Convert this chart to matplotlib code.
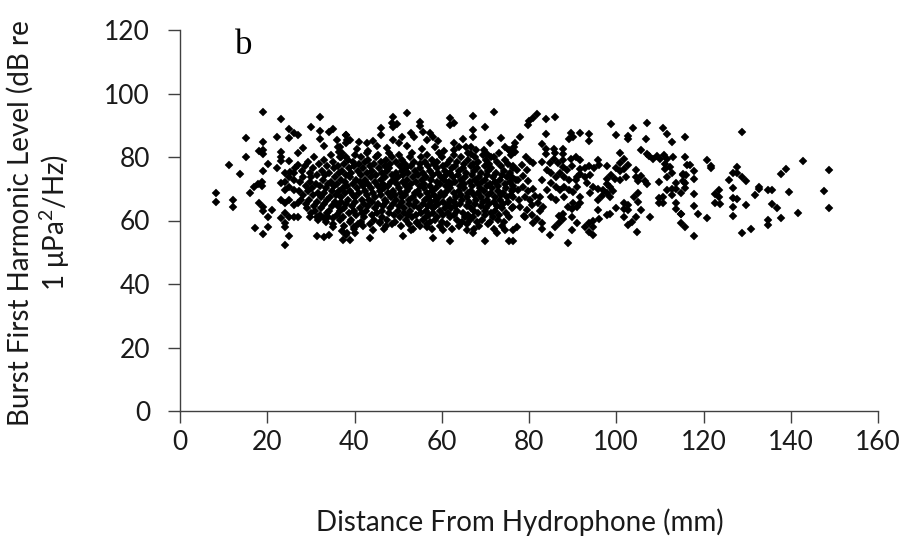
import matplotlib
matplotlib.use("Agg")
import matplotlib.pyplot as plt

# ---------------- data ----------------
# sparse / outlying points: distance (mm), level (dB)
sparse_x = [19.0, 23.1, 32.1, 30.1, 25.1, 26.1, 27.0, 32.1, 34.2, 35.1, 15.1, 22.2, 25.1, 19.1, 18.0, 19.0, 19.1,
            15.1, 11.2, 13.8, 19.1, 20.1, 22.2, 23.1, 23.1, 23.1, 25.1, 27.0, 28.1, 26.3, 27.0, 25.2, 32.1, 33.0,
            36.1, 36.2, 36.4, 38.1, 38.2, 16.0, 17.0, 17.9, 18.8, 18.8, 8.2, 8.2, 12.1, 12.1, 18.0, 19.1, 19.1,
            20.2, 21.1, 17.1, 19.1, 20.2, 23.1, 24.1, 25.1, 26.1, 24.1, 23.1, 24.1, 25.1, 26.1, 27.0, 23.1, 24.1,
            24.1, 24.1, 25.1, 26.1, 27.0, 25.1, 24.1, 31.5, 33.0, 34.1, 35.0, 37.1, 38.1, 39.0, 40.1, 31.5, 32.1,
            33.0, 35.0, 24.1, 25.1, 26.1, 26.1]
sparse_y = [94.1, 92.0, 92.7, 89.5, 88.8, 87.7, 86.9, 88.3, 87.8, 88.7, 86.1, 86.4, 85.9, 84.6, 81.9, 82.2, 80.8,
            79.9, 77.4, 74.7, 75.7, 77.9, 76.4, 81.6, 80.1, 78.8, 78.7, 81.2, 82.7, 76.4, 77.5, 75.4, 85.6, 83.6,
            85.4, 83.2, 81.7, 86.9, 85.4, 68.6, 70.6, 71.4, 70.9, 72.1, 68.8, 65.8, 66.5, 64.2, 65.4, 64.3, 63.1,
            61.2, 63.3, 57.6, 55.7, 57.9, 71.7, 72.1, 70.7, 69.6, 69.6, 66.5, 65.4, 66.5, 64.8, 65.4, 60.7, 62.3,
            59.3, 58.1, 61.2, 61.0, 61.0, 55.1, 52.3, 55.1, 54.9, 55.3, 58.1, 56.6, 55.3, 53.8, 56.0, 61.2, 61.2,
            60.8, 60.8, 74.9, 73.6, 72.8, 74.9]

mid_x = [52.0, 48.9, 48.5, 49.7, 48.9, 55.0, 55.0, 55.6, 61.9, 62.8, 61.9, 67.1, 71.9, 69.9, 67.1, 67.1, 46.0,
         46.0, 44.3, 42.8, 38.0, 38.9, 38.0, 38.0, 41.0, 52.9, 53.7, 57.3, 58.1, 56.6, 48.8, 50.3, 62.7, 63.9,
         62.7, 65.6, 66.7, 67.9, 66.7, 69.6, 70.3, 71.2, 74.6, 75.5, 76.7, 76.9, 36.7, 36.7, 43.5, 51.1, 52.9,
         58.0, 61.9, 69.9, 75.5, 38.2, 37.3, 39.9, 44.3, 45.8, 54.3, 56.6, 60.4, 65.7, 67.2, 72.6, 74.6, 77.2,
         40.5, 43.0, 47.5, 52.0, 55.5, 58.5, 60.5, 71.0, 73.5, 45.2, 59.2, 64.8, 50.8]
mid_y = [93.8, 92.7, 90.6, 90.4, 89.6, 91.1, 89.8, 88.0, 92.3, 90.6, 90.2, 92.9, 94.3, 89.3, 88.5, 86.4, 89.0,
         86.9, 85.1, 84.3, 86.9, 85.5, 84.3, 80.1, 84.8, 87.5, 86.4, 87.5, 86.4, 85.4, 85.4, 84.3, 84.3, 83.2,
         82.2, 83.2, 83.2, 82.2, 81.1, 82.2, 81.1, 80.1, 83.2, 82.2, 84.3, 81.5, 83.2, 80.1, 54.5, 55.1, 57.0,
         54.5, 53.7, 53.7, 53.7, 56.0, 53.8, 58.1, 57.0, 59.1, 59.1, 58.1, 57.0, 57.0, 56.0, 56.0, 57.0, 58.1,
         82.5, 81.8, 82.8, 83.5, 82.5, 83.0, 81.8, 84.5, 86.0, 83.6, 84.9, 85.7, 86.2]

right_x = [81.9, 81.0, 80.1, 79.8, 83.9, 85.9, 77.9, 83.9, 89.6, 90.0, 89.1, 91.8, 93.8, 93.8, 98.9, 103.8,
           107.0, 99.9, 102.8, 102.8, 106.8, 110.8, 111.7, 112.8, 76.6, 76.6, 75.6, 82.9, 83.9, 83.9, 85.7,
           85.9, 87.7, 87.9, 81.0, 82.9, 84.8, 85.7, 86.7, 87.9, 89.6, 90.8, 91.7, 89.8, 88.8, 87.7, 91.8, 92.9,
           93.8, 94.9, 95.8, 96.0, 94.0, 92.9, 91.8, 90.9, 100.9, 101.8, 100.9, 99.9, 100.9, 101.8, 102.8, 102.3,
           100.9, 99.8, 98.9, 97.8, 105.6, 107.0, 107.4, 108.4, 109.3, 110.0, 110.9, 111.7, 113.1, 111.2, 112.3,
           112.8, 111.7, 111.2, 109.7, 104.5, 104.5, 105.0, 105.6, 106.5, 107.0, 115.2, 115.4, 113.8, 113.8,
           112.8, 111.7, 112.8, 110.8, 109.7, 109.7, 110.8, 113.8, 113.8, 114.8, 107.7, 105.0, 104.1, 105.0,
           105.6, 104.5, 103.6, 104.7, 102.7, 101.8, 102.7, 101.8, 102.7, 101.8, 99.9, 97.8, 97.8, 98.6, 99.2,
           97.8, 96.9, 98.6, 96.7, 95.8, 95.8, 97.8, 98.6, 96.0, 94.7, 93.8, 92.9, 94.7, 93.8, 94.7, 91.8, 91.8,
           90.9, 89.9, 90.0, 88.9, 87.9, 89.9, 90.9, 89.9, 88.9, 84.8, 85.9, 86.8, 87.9, 86.8, 82.9, 82.9, 81.9,
           81.0, 78.9, 76.3, 76.3,
           76.4, 77.3, 78.4, 79.5, 76.2, 77.5, 78.7, 79.8, 76.4, 77.5, 78.7, 79.8, 81.0, 76.4, 77.6, 79.0, 80.2,
           81.4, 76.4, 77.9, 79.5, 80.7, 82.1, 79.0, 80.7, 82.5, 83.3, 84.2, 85.1, 86.2, 87.1, 88.1, 89.1, 85.1,
           86.2, 84.2, 87.1, 88.1, 89.1, 85.1, 86.2, 88.1, 90.1, 91.1, 90.8, 83.0, 82.5, 93.2, 94.7, 95.8, 94.0,
           79.3, 80.2]
right_y = [93.5, 92.3, 91.4, 90.1, 92.1, 92.5, 86.4, 87.2, 87.7, 86.4, 85.6, 87.7, 87.2, 85.1, 90.4, 89.2,
           90.6, 86.9, 86.6, 85.8, 85.8, 89.1, 87.2, 84.7, 83.2, 81.6, 82.0, 84.1, 82.4, 80.9, 82.4, 81.2, 82.6,
           80.9, 78.2, 78.4, 78.2, 79.5, 78.2, 79.1, 79.5, 80.1, 79.1, 77.2, 75.9, 77.0, 76.1, 76.5, 77.2, 76.5,
           79.1, 77.4, 74.2, 73.8, 74.6, 73.8, 81.2, 79.3, 78.2, 76.4, 75.5, 76.3, 77.4, 73.6, 72.8, 73.0, 74.4,
           77.2, 82.2, 80.9, 80.3, 79.5, 80.3, 79.5, 80.5, 79.3, 79.9, 77.8, 76.9, 74.9, 73.6, 76.3, 72.1, 75.9,
           73.8, 72.5, 74.0, 72.5, 71.5, 74.6, 72.5, 71.7, 70.0, 70.0, 69.6, 67.9, 67.5, 67.1, 65.4, 65.4, 65.4,
           63.7, 62.0, 61.0, 68.6, 67.3, 65.8, 63.3, 61.2, 59.5, 56.4, 58.7, 65.4, 65.0, 63.7, 63.3, 61.2, 63.9,
           73.0, 71.5, 70.6, 69.2, 68.6, 69.6, 67.3, 67.7, 66.5, 63.3, 61.6, 62.0, 60.6, 59.7, 59.1, 58.0, 58.0,
           56.4, 55.3, 67.5, 65.4, 64.3, 63.5, 65.4, 64.3, 62.2, 61.2, 59.3, 57.0, 52.8, 55.3, 57.9, 59.3, 60.4,
           61.4, 57.2, 59.3, 60.6, 59.3, 61.4, 53.6, 57.0,
           77.2, 75.9, 77.4, 75.9, 73.6, 72.8, 74.0, 72.3, 70.0, 69.6, 70.7, 69.4, 70.0, 67.3, 66.5, 67.3, 66.5,
           67.7, 64.3, 64.1, 63.3, 65.0, 65.4, 61.2, 61.6, 63.1, 64.3, 75.9, 74.9, 73.6, 74.9, 73.6, 72.8, 71.7,
           70.7, 69.6, 69.6, 70.5, 69.6, 67.5, 66.5, 67.5, 69.0, 70.7, 72.8, 72.8, 67.5, 71.7, 70.7, 70.0, 68.6,
           80.1, 78.6]

far_x = [115.8, 128.8, 115.8, 116.3, 116.9, 115.2, 116.0, 117.8, 117.8, 115.8, 115.8, 114.9, 117.8, 117.8,
         114.9, 118.8, 120.7, 114.9, 115.8, 117.8, 120.7, 121.8, 121.8, 122.7, 122.7, 123.6, 123.6, 123.8,
         125.8, 126.7, 127.7, 127.7, 128.8, 129.7, 126.7, 126.7, 127.7, 126.7, 126.7, 129.7, 128.8, 130.8,
         131.7, 132.8, 132.8, 134.8, 135.7, 135.7, 136.8, 137.7, 134.8, 134.8, 137.7, 138.8, 139.7, 141.7,
         142.7, 147.6, 148.7, 148.7]
far_y = [86.2, 88.0, 80.1, 77.4, 77.4, 74.2, 74.2, 75.7, 73.2, 71.9, 70.2, 68.6, 68.2, 64.6, 62.0, 62.0, 60.9,
         59.3, 58.0, 55.1, 79.1, 77.2, 76.5, 68.2, 65.6, 69.6, 67.5, 65.2, 72.8, 75.1, 76.8, 75.1, 73.6, 72.5,
         70.1, 67.1, 66.9, 64.2, 61.4, 64.8, 56.0, 57.3, 68.0, 70.5, 69.8, 69.6, 69.6, 65.2, 63.8, 60.8, 60.2,
         58.6, 74.6, 76.3, 69.0, 62.5, 78.7, 69.4, 75.8, 64.0]

# dense core of the cloud, read band by band (level dB, distances mm)
core_levels = [81.3, 80.6, 79.9, 79.2, 78.5, 77.8, 77.1, 76.4, 75.7, 75.0, 74.3, 73.6, 72.9, 72.2, 71.5, 70.8,
               70.1, 69.4, 68.7, 68.0, 67.3, 66.6, 65.9, 65.2, 64.5, 63.8, 63.1, 62.4, 61.7, 61.0, 60.3, 59.6,
               58.9, 58.2, 57.4]
core_dists = [
    [37.2, 42.8, 47.9, 53.1, 59.4, 66.0, 73.1],
    [34.6, 40.1, 45.3, 50.2, 56.7, 62.9, 69.4, 75.8],
    [30.8, 36.9, 41.5, 44.9, 48.6, 52.7, 55.3, 60.1, 64.4, 67.6, 71.9],
    [33.1, 38.4, 43.0, 47.2, 50.9, 57.8, 62.0, 66.1, 70.2, 74.5],
    [29.3, 35.0, 39.6, 42.3, 46.0, 49.4, 53.6, 56.2, 59.0, 63.5, 68.3, 72.7],
    [31.9, 37.6, 41.1, 44.4, 48.1, 51.5, 54.9, 58.3, 61.2, 65.0, 67.2, 70.9, 75.1],
    [28.6, 33.8, 36.2, 39.9, 43.5, 46.9, 50.4, 52.9, 56.8, 60.3, 63.1, 66.6, 69.8, 73.5],
    [30.4, 35.3, 38.8, 42.0, 45.6, 48.0, 51.9, 55.1, 58.9, 62.4, 64.9, 68.1, 71.4, 76.3],
    [27.9, 32.5, 37.1, 40.7, 44.1, 47.4, 50.8, 53.9, 57.2, 60.8, 64.0, 67.3, 70.6, 74.2],
    [29.8, 34.2, 36.5, 39.3, 42.9, 46.2, 49.5, 52.3, 55.8, 59.2, 61.9, 65.6, 69.0, 72.4, 75.6],
    [31.3, 33.3, 38.0, 41.6, 45.0, 48.7, 51.2, 54.6, 58.1, 61.0, 63.7, 66.9, 70.4, 73.9],
    [28.2, 30.1, 35.6, 39.0, 43.8, 47.0, 50.0, 53.3, 56.5, 59.8, 62.6, 65.3, 68.6, 71.8, 75.0],
    [32.8, 36.8, 40.4, 42.5, 46.1, 49.1, 52.0, 55.4, 57.6, 60.6, 64.3, 67.7, 70.0, 73.3, 77.0],
    [27.5, 29.9, 34.5, 37.9, 41.2, 44.6, 48.3, 51.1, 54.2, 58.8, 61.6, 63.0, 66.4, 69.3, 72.1, 75.7],
    [31.1, 33.9, 36.1, 39.6, 43.1, 46.5, 49.8, 53.0, 56.0, 59.5, 62.2, 65.0, 68.2, 71.0, 74.4],
    [28.8, 32.0, 35.2, 38.3, 41.9, 45.3, 47.6, 51.7, 54.9, 57.4, 60.9, 64.1, 67.0, 70.3, 73.0, 76.4],
    [30.3, 33.5, 37.3, 40.6, 43.7, 46.8, 50.3, 52.6, 55.9, 58.6, 62.0, 65.2, 68.8, 71.6, 74.8],
    [27.2, 29.4, 34.9, 36.4, 39.0, 42.4, 45.8, 48.9, 52.1, 54.5, 57.8, 61.2, 63.9, 66.7, 69.6, 72.9, 76.0],
    [31.7, 33.1, 37.8, 41.0, 44.3, 47.7, 50.7, 53.8, 56.6, 59.9, 62.8, 66.0, 68.3, 71.3, 74.1],
    [28.1, 30.6, 35.8, 39.7, 42.8, 46.0, 49.2, 51.5, 55.0, 58.2, 60.5, 64.5, 67.4, 70.7, 73.6, 75.9],
    [32.4, 34.4, 37.0, 40.2, 44.8, 48.4, 50.9, 53.5, 57.0, 59.3, 63.3, 65.7, 69.1, 72.2, 74.9],
    [27.8, 29.6, 33.7, 38.6, 41.7, 43.4, 46.9, 49.6, 52.4, 56.1, 58.6, 61.8, 64.6, 67.9, 70.4, 73.4],
    [31.4, 35.5, 36.9, 40.0, 44.0, 47.3, 51.0, 54.2, 57.5, 60.2, 62.9, 66.2, 69.5, 71.9, 75.3],
    [28.9, 33.0, 38.1, 42.1, 45.5, 48.8, 52.6, 55.6, 59.1, 61.4, 64.2, 67.6, 70.9, 74.0],
    [30.7, 34.8, 36.3, 39.4, 43.2, 46.6, 50.1, 53.7, 56.9, 58.4, 63.0, 65.9, 68.9, 72.6],
    [29.2, 32.3, 37.5, 41.3, 44.7, 48.1, 51.4, 54.8, 57.9, 60.7, 62.1, 66.8, 70.1, 73.8, 76.2],
    [31.0, 34.1, 36.7, 39.8, 42.7, 46.3, 49.9, 52.8, 56.3, 59.6, 63.6, 67.5, 69.9, 72.3],
    [30.0, 33.6, 38.7, 41.8, 45.1, 47.8, 51.3, 55.3, 58.0, 61.5, 64.8, 68.4, 71.2, 74.7],
    [32.1, 35.9, 40.4, 43.9, 49.0, 52.2, 54.0, 57.1, 60.4, 62.7, 66.1, 70.0, 73.2],
    [29.7, 34.0, 37.4, 42.2, 46.4, 50.5, 53.2, 56.4, 59.0, 61.9, 65.4, 67.1, 71.7, 75.4],
    [31.6, 36.6, 39.2, 44.5, 47.5, 51.8, 55.7, 58.5, 63.4, 66.5, 69.2, 72.9],
    [33.4, 38.9, 41.4, 45.9, 49.3, 54.4, 57.3, 60.0, 64.7, 68.0, 71.0, 74.3],
    [35.1, 40.8, 43.6, 48.5, 52.5, 56.6, 61.1, 65.8, 70.5],
    [37.7, 42.0, 47.2, 50.6, 55.0, 59.7, 63.9, 68.6, 73.7],
    [39.8, 46.7, 53.4, 57.7, 62.3, 67.3, 72.0],
]

x_ticks = [0, 20, 40, 60, 80, 100, 120, 140, 160]
y_ticks = [0, 20, 40, 60, 80, 100, 120]
x_label = "Distance From Hydrophone (mm)"
y_label_1 = "Burst First Harmonic Level (dB re"
y_label_2 = "1 \u03bcPa$^2$/Hz)"
panel_letter = "b"

# ---------------- figure ----------------
plt.rcParams['font.family'] = ['Lato', 'DejaVu Sans']
plt.rcParams['mathtext.fontset'] = 'custom'
plt.rcParams['mathtext.rm'] = 'Lato'
fig = plt.figure(figsize=(9.06, 5.44), dpi=100)
ax = fig.add_axes([180 / 906, 1 - 411 / 544, (878 - 180) / 906, (411 - 30) / 544])

all_x = sparse_x + mid_x + right_x + far_x
all_y = sparse_y + mid_y + right_y + far_y
for lvl, row in zip(core_levels, core_dists):
    all_x = all_x + row
    all_y = all_y + [lvl] * len(row)

ax.plot(all_x, all_y, linestyle='none', marker='D', markersize=4.0,
        markerfacecolor='black', markeredgecolor='black', markeredgewidth=0.3)

ax.set_xlim(0, 160)
ax.set_ylim(0, 120)
ax.set_xticks(x_ticks)
ax.set_yticks(y_ticks)
ax.tick_params(axis='x', direction='out', length=8.5, width=1, colors='#404040',
               labelcolor='#1a1a1a', labelsize=19, pad=5)
ax.tick_params(axis='y', direction='out', length=8.5, width=1, colors='#404040',
               labelcolor='#1a1a1a', labelsize=19, pad=13)
for s in ['top', 'right']:
    ax.spines[s].set_visible(False)
for s in ['left', 'bottom']:
    ax.spines[s].set_color('#404040')
    ax.spines[s].set_linewidth(1)

fig.text(520 / 906, 1 - 522 / 544, x_label, ha='center', va='center', fontsize=20, color='#1a1a1a')
fig.text(20 / 906, 1 - 223 / 544, y_label_1, ha='center', va='center', rotation=90, fontsize=20, color='#1a1a1a')
fig.text(55 / 906, 1 - 223 / 544, y_label_2, ha='center', va='center', rotation=90, fontsize=20, color='#1a1a1a')
ax.text(14.5, 115, panel_letter, ha='center', va='center', fontsize=25,
        family=['Liberation Serif', 'DejaVu Serif'], color='black')

fig.savefig('out.png', dpi=100)
